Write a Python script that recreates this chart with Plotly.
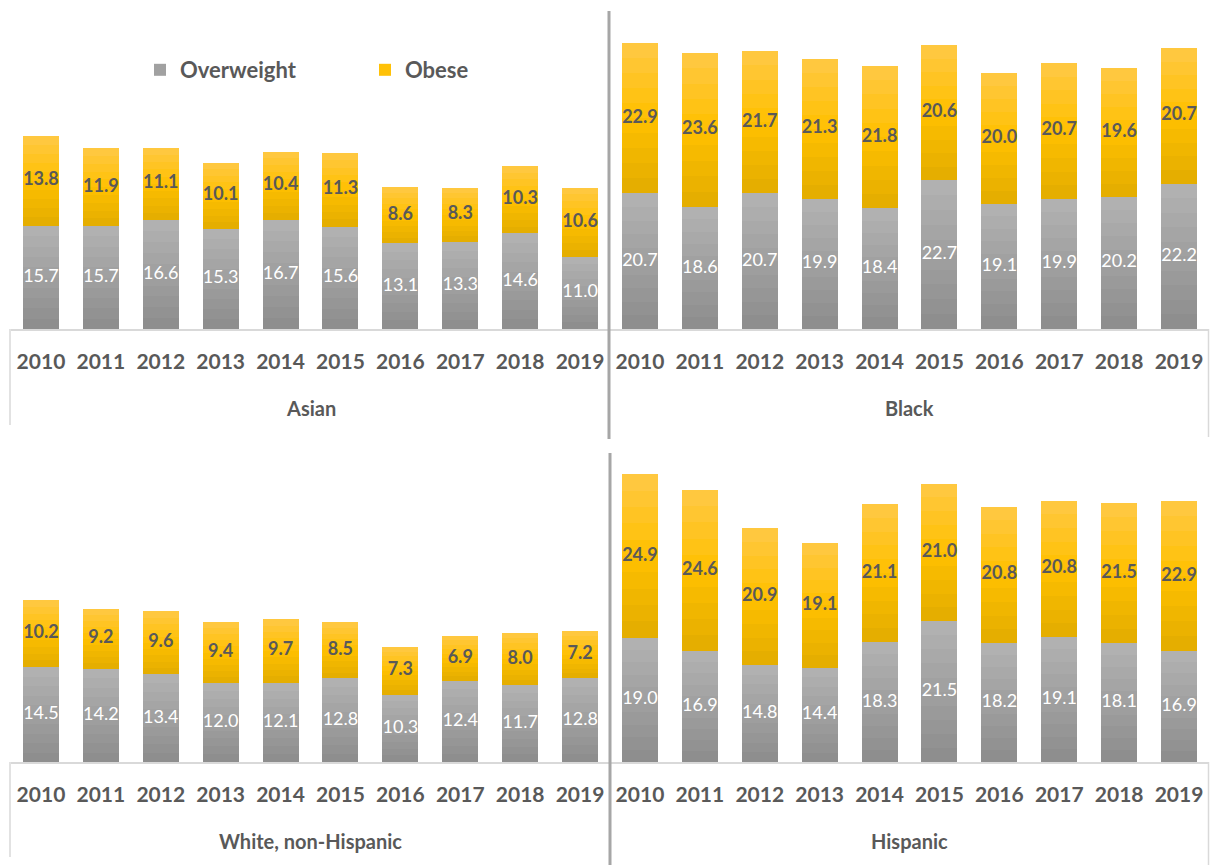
import plotly.graph_objects as go

years = ["2010", "2011", "2012", "2013", "2014", "2015", "2016", "2017", "2018", "2019"]

asian_overweight = [15.7, 15.7, 16.6, 15.3, 16.7, 15.6, 13.1, 13.3, 14.6, 11.0]
asian_obese = [13.8, 11.9, 11.1, 10.1, 10.4, 11.3, 8.6, 8.3, 10.3, 10.6]

black_overweight = [20.7, 18.6, 20.7, 19.9, 18.4, 22.7, 19.1, 19.9, 20.2, 22.2]
black_obese = [22.9, 23.6, 21.7, 21.3, 21.8, 20.6, 20.0, 20.7, 19.6, 20.7]

white_overweight = [14.5, 14.2, 13.4, 12.0, 12.1, 12.8, 10.3, 12.4, 11.7, 12.8]
white_obese = [10.2, 9.2, 9.6, 9.4, 9.7, 8.5, 7.3, 6.9, 8.0, 7.2]

hisp_overweight = [19.0, 16.9, 14.8, 14.4, 18.3, 21.5, 18.2, 19.1, 18.1, 16.9]
hisp_obese = [24.9, 24.6, 20.9, 19.1, 21.1, 21.0, 20.8, 20.8, 21.5, 22.9]

panels = [
    ("Asian", asian_overweight, asian_obese),
    ("Black", black_overweight, black_obese),
    ("White, non-Hispanic", white_overweight, white_obese),
    ("Hispanic", hisp_overweight, hisp_obese),
]

W, H = 1210, 865
FONT = "Lato"
TXT = "#595959"
N = 10  # gradient slices


def lerp(c1, c2, t):
    return tuple(round(a + (b - a) * t) for a, b in zip(c1, c2))


def grad(stops, t):
    for (p0, c0), (p1, c1) in zip(stops, stops[1:]):
        if p0 <= t <= p1:
            return lerp(c0, c1, (t - p0) / (p1 - p0))
    return stops[-1][1]


gray_stops = [(0.0, (140, 140, 140)), (1.0, (179, 179, 179))]
gold_stops = [(0.0, (226, 172, 0)), (0.5, (255, 192, 0)), (1.0, (255, 201, 70))]


def rgb(c):
    return "rgb(%d,%d,%d)" % c


fig = go.Figure()

x_doms = [(11, 610), (610, 1209), (11, 610), (610, 1209)]
y_doms = [(34.25, 329), (34.25, 329), (467.25, 762), (467.25, 762)]

for i, (name, ow, ob) in enumerate(panels):
    ax = "" if i == 0 else str(i + 1)
    xa, ya = "x" + ax, "y" + ax
    for vals, stops, sname in [(ow, gray_stops, "Overweight"),
                               (ob, gold_stops, "Obese")]:
        for k in range(N):
            t = (k + 0.5) / N
            fig.add_trace(go.Bar(
                x=years, y=[v / N for v in vals],
                marker=dict(color=rgb(grad(stops, t)), line=dict(width=0)),
                xaxis=xa, yaxis=ya,
                name=sname, legendgroup=sname,
                showlegend=(i == 0 and k == N // 2),
                hoverinfo="skip",
            ))
    fig.add_trace(go.Scatter(
        x=years, y=[v / 2 for v in ow], mode="text",
        text=["%.1f" % v for v in ow],
        textfont=dict(family=FONT, size=18, color="white"),
        xaxis=xa, yaxis=ya, showlegend=False, hoverinfo="skip",
    ))
    fig.add_trace(go.Scatter(
        x=years, y=[a + b / 2 for a, b in zip(ow, ob)], mode="text",
        text=["<b>%.1f</b>" % v for v in ob],
        textfont=dict(family=FONT, size=18, color=TXT),
        xaxis=xa, yaxis=ya, showlegend=False, hoverinfo="skip",
    ))

layout = dict(
    width=W, height=H,
    margin=dict(l=0, r=0, t=0, b=0),
    paper_bgcolor="white", plot_bgcolor="white",
    barmode="stack", bargap=0.4,
    font=dict(family=FONT, color=TXT),
    showlegend=True,
    legend=dict(
        orientation="h", x=140 / W, y=1 - 70 / H, xanchor="left", yanchor="middle",
        font=dict(family=FONT, size=22, color=TXT, weight="bold"),
        entrywidth=180, entrywidthmode="pixels",
        bgcolor="rgba(0,0,0,0)",
    ),
)

annotations = []
for i, (name, ow, ob) in enumerate(panels):
    ax = "" if i == 0 else str(i + 1)
    xd, yd = x_doms[i], y_doms[i]
    layout["xaxis" + ax] = dict(
        domain=[xd[0] / W, xd[1] / W], anchor="y" + ax, type="category",
        showline=True, linecolor="#d9d9d9", linewidth=1.5,
        showgrid=False, zeroline=False, ticks="",
        tickfont=dict(family=FONT, size=21, color=TXT, weight="bold"),
        ticklabelstandoff=13, fixedrange=True,
    )
    layout["yaxis" + ax] = dict(
        domain=[1 - yd[1] / H, 1 - yd[0] / H], anchor="x" + ax,
        range=[0, 45], visible=False, fixedrange=True,
    )
    annotations.append(dict(
        text="<b>%s</b>" % name, xref="paper", yref="paper",
        x=(xd[0] + xd[1]) / 2 / W, y=1 - (yd[1] + 79) / H,
        xanchor="center", yanchor="middle", showarrow=False,
        font=dict(family=FONT, size=20, color=TXT),
    ))

layout["annotations"] = annotations


def vline(x, y0, y1, color, width):
    return dict(type="line", xref="paper", yref="paper",
                x0=x / W, x1=x / W, y0=1 - y0 / H, y1=1 - y1 / H,
                line=dict(color=color, width=width))


layout["shapes"] = [
    vline(609, 11, 439, "#a6a6a6", 3),
    vline(610, 453, 865, "#a6a6a6", 3),
    vline(10, 329, 425, "#d9d9d9", 1.5),
    vline(1208.5, 329, 437, "#d9d9d9", 1.5),
    vline(10, 762, 857, "#d9d9d9", 1.5),
    vline(1208.5, 762, 865, "#d9d9d9", 1.5),
]

fig.update_layout(**layout)
fig.write_html("out.html")
